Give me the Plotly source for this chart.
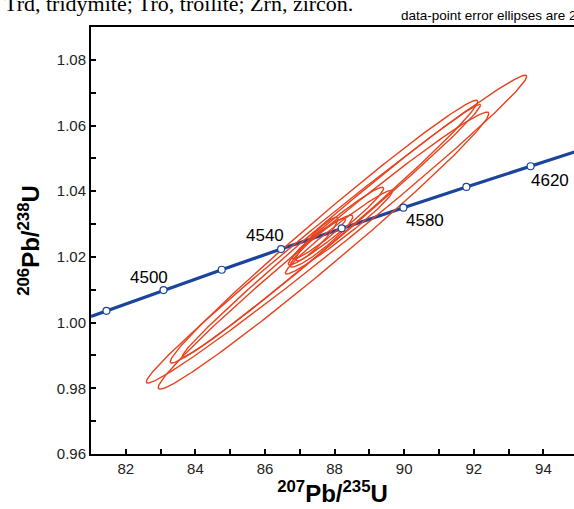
import numpy as np
import plotly.graph_objects as go

# Concordia reference points (age in Ma, 207Pb/235U, 206Pb/238U)
ages = [4480, 4500, 4520, 4540, 4560, 4580, 4600, 4620]
conc_x = [81.445, 83.085, 84.757, 86.463, 88.203, 89.978, 91.787, 93.633]
conc_y = [1.0036, 1.0099, 1.0161, 1.0224, 1.0287, 1.0350, 1.0413, 1.0476]
# curve ends at the plot edges
end_x = [81.0, 95.0]
end_y = [1.0019, 1.0523]

labeled_ages = [4500, 4540, 4580, 4620]

# Data-point error ellipses (2 sigma): centre, 2s errors, error correlation
ell_x = [88.055, 87.681, 87.695, 87.911, 88.126, 88.040, 87.624, 87.494, 87.552]
ell_sx = [5.468, 4.751, 4.419, 4.285, 1.542, 1.370, 0.899, 0.602, 0.766]
ell_y = [1.02846, 1.02192, 1.02770, 1.02801, 1.02755, 1.02938, 1.02481, 1.02542, 1.02557]
ell_sy = [0.04687, 0.04218, 0.04001, 0.03843, 0.01275, 0.01183, 0.00793, 0.00666, 0.00621]
ell_rho = [0.9922, 0.9887, 0.9902, 0.9941, 0.9760, 0.9715, 0.9386, 0.9213, 0.9517]

BLUE = "#1b449c"
RED = "#e8421e"
FONT = "Liberation Sans, Arial, sans-serif"

fig = go.Figure()

line_x = [end_x[0]] + conc_x + [end_x[1]]
line_y = [end_y[0]] + conc_y + [end_y[1]]
fig.add_trace(go.Scatter(x=line_x, y=line_y, mode="lines",
                         line=dict(color=BLUE, width=3.2), hoverinfo="skip"))

t = np.linspace(0, 2 * np.pi, 361)
for cx, sx, cy, sy, r in zip(ell_x, ell_sx, ell_y, ell_sy, ell_rho):
    ex = cx + sx * np.cos(t)
    ey = cy + sy * (r * np.cos(t) + np.sqrt(1 - r * r) * np.sin(t))
    fig.add_trace(go.Scatter(x=ex, y=ey, mode="lines",
                             line=dict(color=RED, width=1.4), hoverinfo="skip"))

fig.add_trace(go.Scatter(x=conc_x, y=conc_y, mode="markers",
                         marker=dict(size=7, color="white",
                                     line=dict(color=BLUE, width=1.2)),
                         hoverinfo="skip"))

label_pos = {
    4500: dict(xanchor="right", yanchor="bottom", xshift=6, yshift=1),
    4540: dict(xanchor="right", yanchor="bottom", xshift=5, yshift=2),
    4580: dict(xanchor="left", yanchor="top", xshift=1, yshift=-1),
    4620: dict(xanchor="left", yanchor="top", xshift=-2, yshift=-3),
}
for a in labeled_ages:
    i = ages.index(a)
    fig.add_annotation(x=conc_x[i], y=conc_y[i], text=str(a), showarrow=False,
                       font=dict(family=FONT, size=17, color="black"),
                       **label_pos[a])

fig.add_annotation(xref="paper", yref="paper", x=0.5466, y=1.022,
                   xanchor="right", yanchor="bottom", showarrow=False,
                   text="Trd, tridymite; Tro, troilite; Zrn, zircon.",
                   font=dict(family="Liberation Serif, Times New Roman, serif",
                             size=22, color="black"))
fig.add_annotation(xref="paper", yref="paper", x=0.638, y=1.027,
                   xanchor="left", yanchor="middle", showarrow=False,
                   text="data-point error ellipses are 2σ",
                   font=dict(family=FONT, size=13.5, color="black"))

fig.update_layout(
    width=574, height=509,
    margin=dict(l=91, r=0, t=27, b=55, autoexpand=False),
    paper_bgcolor="white", plot_bgcolor="white",
    showlegend=False,
    font=dict(family=FONT, color="#222222"),
    xaxis=dict(range=[81.0, 94.88], tick0=82, dtick=2, ticks="inside",
               ticklen=5, tickwidth=1.5, tickcolor="black",
               minor=dict(dtick=1, ticks="inside", ticklen=5, tickwidth=1.5,
                          tickcolor="black"),
               showline=True, linecolor="black", linewidth=2, mirror=True,
               showgrid=False, zeroline=False, automargin=False,
               tickfont=dict(size=15, family=FONT, color="#222222"),
               title=dict(text="<b><sup>207</sup>Pb/<sup>235</sup>U</b>",
                          font=dict(size=24, family=FONT, color="black"),
                          standoff=6)),
    yaxis=dict(range=[0.96, 1.09], tick0=0.96, dtick=0.02, ticks="inside",
               ticklen=5, tickwidth=1.5, tickcolor="black",
               minor=dict(dtick=0.01, ticks="inside", ticklen=5, tickwidth=1.5,
                          tickcolor="black"),
               tickformat=".2f",
               showline=True, linecolor="black", linewidth=2, mirror=False,
               showgrid=False, zeroline=False, automargin=False,
               tickfont=dict(size=15, family=FONT, color="#222222"),
               title=dict(text="<b><sup>206</sup>Pb/<sup>238</sup>U</b>",
                          font=dict(size=24, family=FONT, color="black"),
                          standoff=10)),
)

fig.write_html("out.html", config={"displayModeBar": False},
               post_script="document.body.style.margin='0';")
